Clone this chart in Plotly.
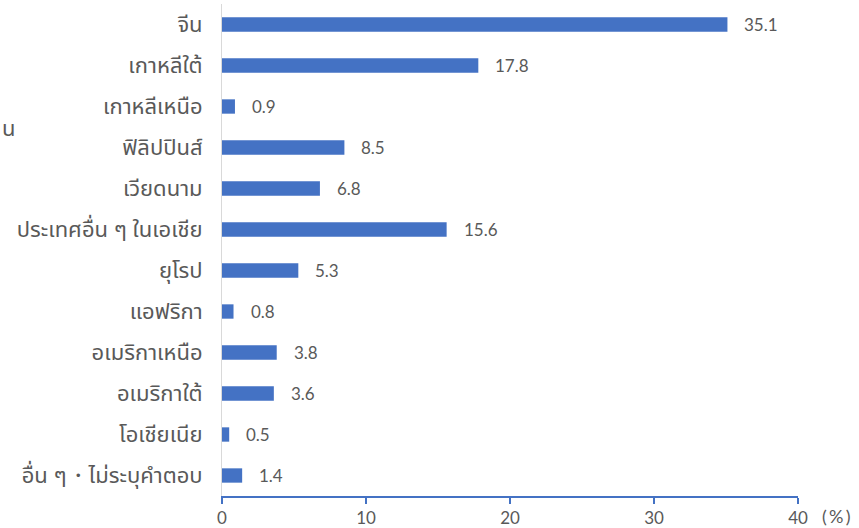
import plotly.graph_objects as go

categories = ["จีน", "เกาหลีใต้", "เกาหลีเหนือ", "ฟิลิปปินส์", "เวียดนาม",
              "ประเทศอื่น ๆ ในเอเชีย", "ยุโรป", "แอฟริกา", "อเมริกาเหนือ",
              "อเมริกาใต้", "โอเชียเนีย", "อื่น ๆ・ไม่ระบุคำตอบ"]
values = [35.1, 17.8, 0.9, 8.5, 6.8, 15.6, 5.3, 0.8, 3.8, 3.6, 0.5, 1.4]
x_ticks = [0, 10, 20, 30, 40]

BLUE = "#4472C4"
TEXT = "#595959"
FONT = "Noto Sans Thai, Noto Sans, sans-serif"
NUMFONT = "Lato, Noto Sans, sans-serif"

fig = go.Figure(go.Bar(
    y=categories, x=values, orientation="h",
    marker=dict(color=BLUE, line=dict(width=0)),
    width=0.35,
    hoverinfo="x+y",
))

for c, v in zip(categories, values):
    fig.add_annotation(x=v, y=c, xref="x", yref="y", text=f"{v}",
                       xanchor="left", yanchor="middle", xshift=15,
                       showarrow=False,
                       font=dict(size=17, color=TEXT, family=NUMFONT))

fig.update_layout(
    width=859, height=528,
    margin=dict(l=222, r=61, t=4, b=32),
    plot_bgcolor="white", paper_bgcolor="white",
    showlegend=False,
    font=dict(family=FONT, color=TEXT),
    xaxis=dict(range=[0, 40], tickvals=x_ticks, showgrid=False, zeroline=False,
               showline=True, linecolor=BLUE, linewidth=1.5,
               ticks="outside", tickcolor=BLUE, ticklen=6, tickwidth=1.5,
               automargin=False, ticklabelstandoff=0,
               tickfont=dict(size=17, color=TEXT, family=NUMFONT)),
    yaxis=dict(autorange="reversed", showgrid=False, zeroline=False,
               showline=True, linecolor="#D9D9D9", linewidth=1,
               ticks="", ticklabelstandoff=14, automargin=False,
               tickfont=dict(size=22, color=TEXT, family=FONT)),
)

fig.add_annotation(text="(\u2009%\u2009)", xref="paper", yref="paper", x=1.0, y=0,
                   xanchor="left", yanchor="middle", yshift=-20, xshift=23,
                   borderpad=0,
                   showarrow=False, font=dict(size=18, color=TEXT, family=NUMFONT))
fig.add_annotation(text="น", xref="paper", yref="paper", x=0, y=0.744,
                   xanchor="left", yanchor="middle", xshift=-222,
                   showarrow=False, font=dict(size=22, color=TEXT, family=FONT))

fig.write_html("out.html", config={"displayModeBar": False},
               post_script="document.body.style.margin='0px';")
